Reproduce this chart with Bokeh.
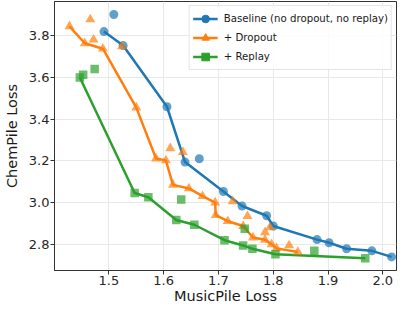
import numpy as np
from bokeh.plotting import figure
from bokeh.models import Legend, LegendItem, Range1d, FixedTicker, PrintfTickFormatter
from bokeh.embed import file_html
from bokeh.resources import INLINE

# ---- data ----
# Baseline (no dropout, no replay)
base_front_x = [1.491, 1.526, 1.606, 1.639, 1.709, 1.743, 1.788, 1.800, 1.880, 1.902, 1.934, 1.980, 2.016]
base_front_y = [3.819, 3.752, 3.459, 3.194, 3.053, 2.984, 2.937, 2.888, 2.823, 2.808, 2.779, 2.769, 2.740]
base_other_x = [1.509, 1.665]
base_other_y = [3.901, 3.210]

# + Dropout
drop_front_x = [1.428, 1.456, 1.489, 1.550, 1.586, 1.604, 1.617, 1.646, 1.671, 1.694, 1.695,
                1.717, 1.745, 1.763, 1.785, 1.797, 1.806, 1.845]
drop_front_y = [3.844, 3.763, 3.737, 3.455, 3.211, 3.202, 3.085, 3.068, 3.031, 3.000, 2.940,
                2.911, 2.888, 2.833, 2.822, 2.800, 2.781, 2.764]
drop_other_x = [1.466, 1.472, 1.524, 1.612, 1.635, 1.726, 1.753, 1.785, 1.794, 1.829]
drop_other_y = [3.877, 3.780, 3.748, 3.260, 3.242, 3.006, 2.935, 2.858, 2.881, 2.795]

# + Replay
repl_front_x = [1.447, 1.547, 1.572, 1.623, 1.656, 1.711, 1.745, 1.762, 1.804, 1.968]
repl_front_y = [3.599, 3.046, 3.026, 2.917, 2.894, 2.820, 2.795, 2.779, 2.753, 2.734]
repl_other_x = [1.453, 1.474, 1.632, 1.748, 1.875]
repl_other_y = [3.612, 3.640, 3.015, 2.875, 2.769]

labels = ["Baseline (no dropout, no replay)", "+ Dropout", "+ Replay"]
x_ticks = [1.5, 1.6, 1.7, 1.8, 1.9, 2.0]
y_ticks = [2.8, 3.0, 3.2, 3.4, 3.6, 3.8]

colors = ["#1f77b4", "#ff7f0e", "#2ca02c"]
markers = ["circle", "triangle", "square"]
sizes = [9, 10, 8.5]

series = [
    (base_front_x, base_front_y, base_other_x, base_other_y),
    (drop_front_x, drop_front_y, drop_other_x, drop_other_y),
    (repl_front_x, repl_front_y, repl_other_x, repl_other_y),
]

FONT = "DejaVu Sans"

p = figure(width=398, height=306,
           x_range=Range1d(1.4007, 2.025), y_range=Range1d(2.675, 3.963),
           output_backend="svg", toolbar_location=None,
           min_border_left=50, min_border_right=2, min_border_top=1, min_border_bottom=30,
           x_axis_label="MusicPile Loss", y_axis_label="ChemPile Loss")

p.background_fill_color = "white"
p.border_fill_color = "white"
p.outline_line_color = "#333333"
p.outline_line_width = 1

p.xaxis.ticker = FixedTicker(ticks=x_ticks)
p.yaxis.ticker = FixedTicker(ticks=y_ticks)
p.xaxis.formatter = PrintfTickFormatter(format="%.1f")
p.yaxis.formatter = PrintfTickFormatter(format="%.1f")
for ax in (p.xaxis[0], p.yaxis[0]):
    ax.major_label_text_font = FONT
    ax.major_label_text_font_size = "13px"
    ax.major_label_text_color = "#262626"
    ax.axis_label_text_font = FONT
    ax.axis_label_text_font_size = "14.5px"
    ax.axis_label_text_font_style = "normal"
    ax.axis_label_text_color = "#1a1a1a"
    ax.major_tick_out = 4
    ax.major_tick_in = 0
    ax.minor_tick_out = 0
    ax.minor_tick_in = 0
    ax.major_tick_line_color = "#333333"
    ax.axis_line_color = "#333333"
    ax.major_label_standoff = 1
p.xaxis.axis_label_standoff = 0
p.yaxis.axis_label_standoff = 6

p.grid.grid_line_color = "#e8e8e8"
p.grid.grid_line_width = 1

items = []
line_renderers = []
for (fx, fy, ox, oy), c in zip(series, colors):
    lr = p.line(x=fx, y=fy, line_color=c, line_width=2.5)
    line_renderers.append(lr)

for (fx, fy, ox, oy), c, m, s, lab, lr in zip(series, colors, markers, sizes, labels, line_renderers):
    p.scatter(x=fx + ox, y=fy + oy, marker=m, size=s, fill_color=c, fill_alpha=0.7,
              line_color=None)
    # legend-only marker (no visible data point)
    proxy = p.scatter(x=[np.nan], y=[np.nan], marker=m, size=s, fill_color=c, line_color=c)
    items.append(LegendItem(label=lab, renderers=[lr, proxy]))

legend = Legend(items=items, location="top_right")
legend.label_text_font = FONT
legend.label_text_font_size = "10.2px"
legend.label_text_color = "#1a1a1a"
legend.border_line_color = "#cccccc"
legend.border_line_width = 1
legend.background_fill_color = "white"
legend.background_fill_alpha = 0.85
legend.padding = 3
legend.spacing = -3
legend.glyph_height = 19
legend.label_height = 14
legend.glyph_width = 25
legend.label_standoff = 6
legend.margin = 4
p.add_layout(legend)

open("out.html", "w").write(file_html(p, INLINE))
